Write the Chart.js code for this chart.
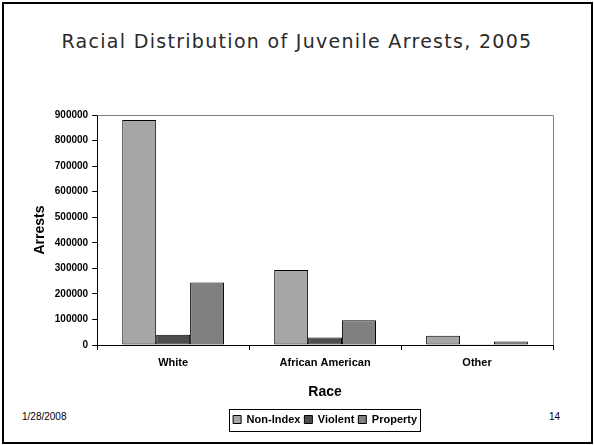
<!DOCTYPE html>
<html>
<head>
<meta charset="utf-8">
<script src="https://cdn.jsdelivr.net/npm/chart.js@4"></script>
<style>
  html, body { margin: 0; padding: 0; background: #fff; }
  #slide { position: relative; width: 594px; height: 445px; overflow: hidden; }
  #frame { position: absolute; left: 2px; top: 2px; width: 591px; height: 442px; border: 2px solid #000; box-sizing: border-box; }
  #title { position: absolute; left: 0; top: 30px; width: 594px; text-align: center; font: 19px "DejaVu Sans"; letter-spacing: 1.3px; color: #2a2a2a; }
  .foot { position: absolute; top: 411px; font: 10px "Liberation Sans", Arial; color: #000; }
  canvas { position: absolute; left: 0; top: 0; }
</style>
</head>
<body>
<div id="slide">
  <div id="frame"></div>
  <div id="title">Racial Distribution of Juvenile Arrests, 2005</div>
  <div class="foot" style="left:22px">1/28/2008</div>
  <div class="foot" style="left:549px">14</div>
  <canvas id="chart" width="594" height="445"></canvas>
</div>
<script>
// data
const races = ['White', 'African American', 'Other'];
const nonIndex = [880000, 293000, 36000];
const violent = [40000, 29000, 1000];
const property = [245000, 97000, 14000];
const yMin = 0, yMax = 900000, yStep = 100000;

const FONT = '"Liberation Sans", Arial, sans-serif';

// gray frame on top/right of the plot + box around the legend
const framePlugin = {
  id: 'frames',
  afterDraw(chart) {
    const ctx = chart.ctx;
    const a = chart.chartArea;
    ctx.save();
    ctx.strokeStyle = '#808080';
    ctx.lineWidth = 1;
    ctx.beginPath();
    ctx.moveTo(a.left, a.top + 0.5);
    ctx.lineTo(a.right + 0.5, a.top + 0.5);
    ctx.lineTo(a.right + 0.5, a.bottom);
    ctx.stroke();

    const hb = chart.legend.legendHitBoxes;
    if (hb && hb.length) {
      const l = Math.min(...hb.map(h => h.left)) - 4;
      const r = Math.max(...hb.map(h => h.left + h.width)) + 3;
      const cy = hb[0].top + hb[0].height / 2;
      ctx.strokeStyle = '#000';
      ctx.strokeRect(Math.round(l) + 0.5, Math.round(cy - 11) + 0.5, Math.round(r - l), 22);
    }
    ctx.restore();
  }
};

new Chart(document.getElementById('chart'), {
  type: 'bar',
  data: {
    labels: races,
    datasets: [
      { label: 'Non-Index', data: nonIndex, backgroundColor: '#a6a6a6' },
      { label: 'Violent', data: violent, backgroundColor: '#4d4d4d' },
      { label: 'Property', data: property, backgroundColor: '#808080' }
    ].map(d => Object.assign(d, { borderColor: '#000', borderWidth: 1, borderSkipped: false }))
  },
  options: {
    responsive: false,
    animation: false,
    devicePixelRatio: 1,
    categoryPercentage: 0.67,
    barPercentage: 1,
    layout: { padding: { top: 115, left: 28, right: 41, bottom: 10 } },
    scales: {
      x: {
        grid: { drawOnChartArea: false, drawTicks: true, tickLength: 5, color: '#000', offset: true },
        border: { color: '#000' },
        ticks: { color: '#000', padding: 6, font: { family: FONT, size: 11, weight: 'bold' } },
        title: { display: true, text: 'Race', color: '#000', padding: { top: 9, bottom: 9 },
                 font: { family: FONT, size: 14, weight: 'bold' } }
      },
      y: {
        min: yMin,
        max: yMax,
        grid: { drawOnChartArea: false, drawTicks: true, tickLength: 5, color: '#000' },
        border: { color: '#000' },
        ticks: { stepSize: yStep, color: '#000', padding: 4, callback: v => String(v),
                 font: { family: FONT, size: 10, weight: 'bold' } },
        title: { display: true, text: 'Arrests', color: '#000', padding: { top: 4, bottom: 2 },
                 font: { family: FONT, size: 14, weight: 'bold' } }
      }
    },
    plugins: {
      legend: {
        position: 'bottom',
        fullSize: false,
        labels: { boxWidth: 8, boxHeight: 8, padding: 4, color: '#000',
                  font: { family: FONT, size: 11, weight: 'bold' } }
      },
      tooltip: { enabled: false }
    }
  },
  plugins: [framePlugin]
});
</script>
</body>
</html>
